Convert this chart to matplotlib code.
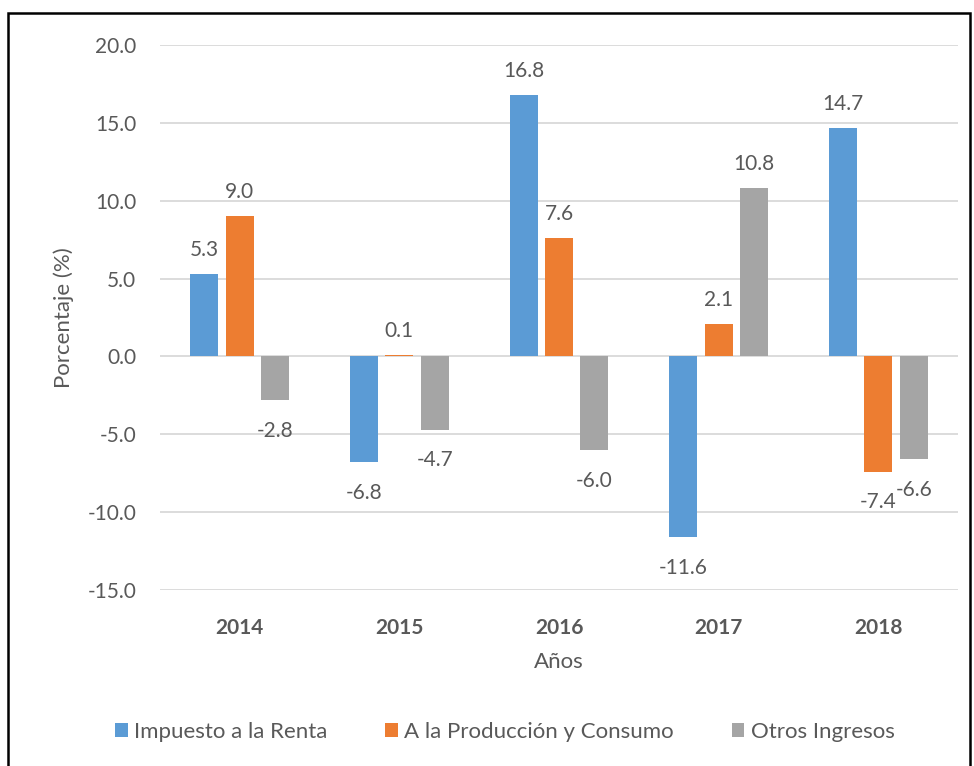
import numpy as np
import matplotlib
matplotlib.use('Agg')
import matplotlib.pyplot as plt
from matplotlib.patches import Rectangle

# Data
years = ['2014', '2015', '2016', '2017', '2018']
renta = [5.3, -6.8, 16.8, -11.6, 14.7]
produccion = [9.0, 0.1, 7.6, 2.1, -7.4]
otros = [-2.8, -4.7, -6.0, 10.8, -6.6]
series_names = ['Impuesto a la Renta', 'A la Producción y Consumo', 'Otros Ingresos']
y_ticks = [20.0, 15.0, 10.0, 5.0, 0.0, -5.0, -10.0, -15.0]

colors = ['#5B9BD5', '#ED7D31', '#A5A5A5']
text_color = '#595959'

plt.rcParams['font.family'] = ['Lato', 'DejaVu Sans']

fig = plt.figure(figsize=(9.74, 7.66), dpi=100)
ax = fig.add_axes([160 / 974, 1 - 590 / 766, (958 - 160) / 974, (590 - 45) / 766])

x = np.arange(len(years))
width = 0.175
step = 0.222

for i, (vals, name) in enumerate(zip([renta, produccion, otros], series_names)):
    pos = x + (i - 1) * step
    ax.bar(pos, vals, width, color=colors[i], label=name, zorder=3)
    for xp, v in zip(pos, vals):
        off = 10 if v >= 0 else -15
        ax.annotate(f'{v:.1f}', (xp, v), xytext=(0, off), textcoords='offset points',
                    ha='center', va='bottom' if v >= 0 else 'top',
                    fontsize=15, color=text_color)

ax.set_xlim(-0.5, len(years) - 0.5)
ax.set_ylim(-15, 20)
ax.set_yticks(y_ticks)
ax.set_yticklabels([f'{t:.1f}' for t in y_ticks])
ax.set_xticks(x)
ax.set_xticklabels(years, fontweight='bold')
ax.grid(axis='y', color='#D9D9D9', linewidth=1.3, zorder=0)
ax.set_axisbelow(True)
for s in ax.spines.values():
    s.set_visible(False)
ax.tick_params(axis='both', length=0, labelsize=15, colors=text_color)
ax.tick_params(axis='y', pad=17)
ax.tick_params(axis='x', pad=20)

ax.set_ylabel('Porcentaje (%)', fontsize=16, color=text_color, labelpad=10)
ax.set_xlabel('Años', fontsize=16, color=text_color, labelpad=10)

fig.legend(loc='center', bbox_to_anchor=(505 / 974, 1 - 732 / 766), ncol=3,
           frameon=False, fontsize=16, handlelength=0.55, handleheight=0.55,
           handletextpad=0.3, columnspacing=2.6, labelcolor=text_color)

# Outer border
fig.patches.append(Rectangle((8 / 974, -0.01), (970 - 8) / 974, 1 - 13 / 766 + 0.01,
                             transform=fig.transFigure, fill=False,
                             edgecolor='black', linewidth=1.8))

fig.savefig('out.png', dpi=100)
